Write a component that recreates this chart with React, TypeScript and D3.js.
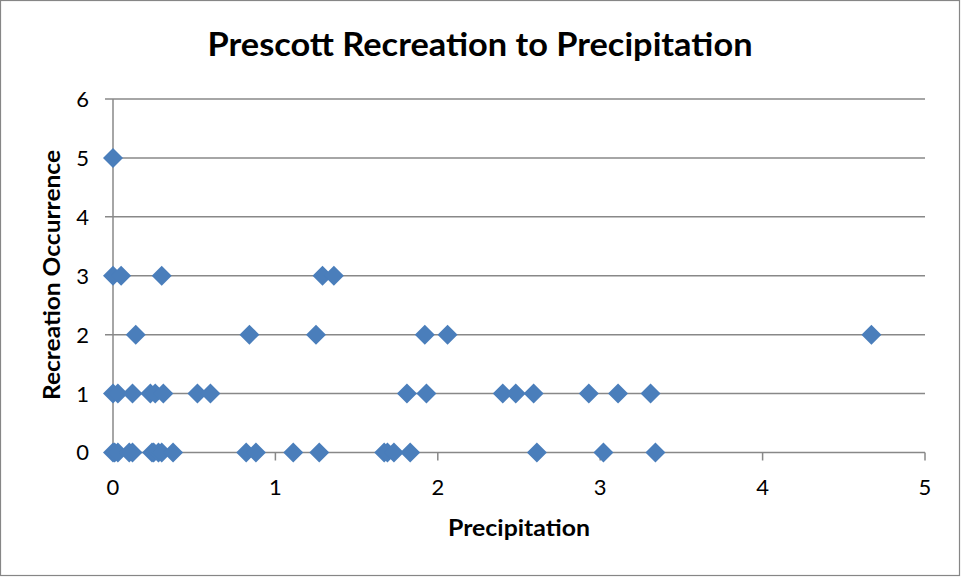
import React from "react";
import * as d3 from "d3";

const title = "Prescott Recreation to Precipitation";
const xTitle = "Precipitation";
const yTitle = "Recreation Occurrence";
const xTicks = [0, 1, 2, 3, 4, 5];
const yTicks = [0, 1, 2, 3, 4, 5, 6];

const precipitation = [
  // occurrence 0
  0.0, 0.01, 0.03, 0.1, 0.12, 0.24, 0.25, 0.28, 0.3, 0.37, 0.82, 0.88, 1.11, 1.27, 1.67, 1.69, 1.73, 1.83, 2.61, 3.02, 3.34,
  // occurrence 1
  0.0, 0.03, 0.12, 0.23, 0.26, 0.31, 0.52, 0.6, 1.81, 1.93, 2.4, 2.48, 2.59, 2.93, 3.11, 3.31,
  // occurrence 2
  0.14, 0.84, 1.25, 1.92, 2.06, 4.67,
  // occurrence 3
  0.0, 0.05, 0.3, 1.29, 1.36,
  // occurrence 5
  0.0,
];
const recreation = [
  0, 0, 0, 0, 0, 0, 0, 0, 0, 0, 0, 0, 0, 0, 0, 0, 0, 0, 0, 0, 0,
  1, 1, 1, 1, 1, 1, 1, 1, 1, 1, 1, 1, 1, 1, 1, 1,
  2, 2, 2, 2, 2, 2,
  3, 3, 3, 3, 3,
  5,
];

const W = 961;
const H = 577;
const FONT = "Lato, 'Open Sans', 'Liberation Sans', sans-serif";

export default function App() {
  const x = d3.scaleLinear().domain([0, 5]).range([113, 925]);
  const y = d3.scaleLinear().domain([0, 6]).range([452.5, 99]);
  const diamond = d3.symbol().type(d3.symbolSquare).size(200)();
  const grid = "#888888";
  const points = precipitation.map((p, i) => ({ p, r: recreation[i] }));

  return (
    <svg
      width={W}
      height={H}
      style={{ position: "absolute", left: 0, top: 0, background: "#fff" }}
    >
      <rect x={0.5} y={0.5} width={W - 2} height={H - 2} fill="#fff" stroke="#868686" strokeWidth={1.2} />
      <text
        x={480}
        y={56}
        textAnchor="middle"
        fontFamily={FONT}
        fontWeight="bold"
        fontSize={32}
        textLength={545}
        lengthAdjust="spacingAndGlyphs"
        fill="#000"
      >
        {title}
      </text>

      {yTicks.map((t) => (
        <g key={"y" + t}>
          <line x1={x(0) - 8} x2={x(5)} y1={y(t)} y2={y(t)} stroke={grid} strokeWidth={1.5} />
          <text
            x={89}
            y={y(t)}
            dy="0.36em"
            textAnchor="end"
            fontFamily={FONT}
            fontSize={22}
            fill="#000"
          >
            {t}
          </text>
        </g>
      ))}
      <line x1={x(0)} x2={x(0)} y1={y(6)} y2={y(0)} stroke={grid} strokeWidth={1.5} />
      {xTicks.map((t) => (
        <g key={"x" + t}>
          <line x1={x(t)} x2={x(t)} y1={y(0)} y2={y(0) + 8} stroke={grid} strokeWidth={1.5} />
          <text
            x={x(t)}
            y={487}
            dy="0.36em"
            textAnchor="middle"
            fontFamily={FONT}
            fontSize={22}
            fill="#000"
          >
            {t}
          </text>
        </g>
      ))}

      {points.map((d, i) => (
        <path
          key={i}
          d={diamond as string}
          transform={`translate(${x(d.p)},${y(d.r)}) rotate(45)`}
          fill="#4a7ebb"
        />
      ))}

      <text
        x={519}
        y={528}
        dy="0.36em"
        textAnchor="middle"
        fontFamily={FONT}
        fontWeight="bold"
        fontSize={22}
        textLength={142}
        lengthAdjust="spacingAndGlyphs"
        fill="#000"
      >
        {xTitle}
      </text>
      <text
        transform={`translate(52,275) rotate(-90)`}
        dy="0.36em"
        textAnchor="middle"
        fontFamily={FONT}
        fontWeight="bold"
        fontSize={22}
        textLength={250}
        lengthAdjust="spacingAndGlyphs"
        fill="#000"
      >
        {yTitle}
      </text>
    </svg>
  );
}
